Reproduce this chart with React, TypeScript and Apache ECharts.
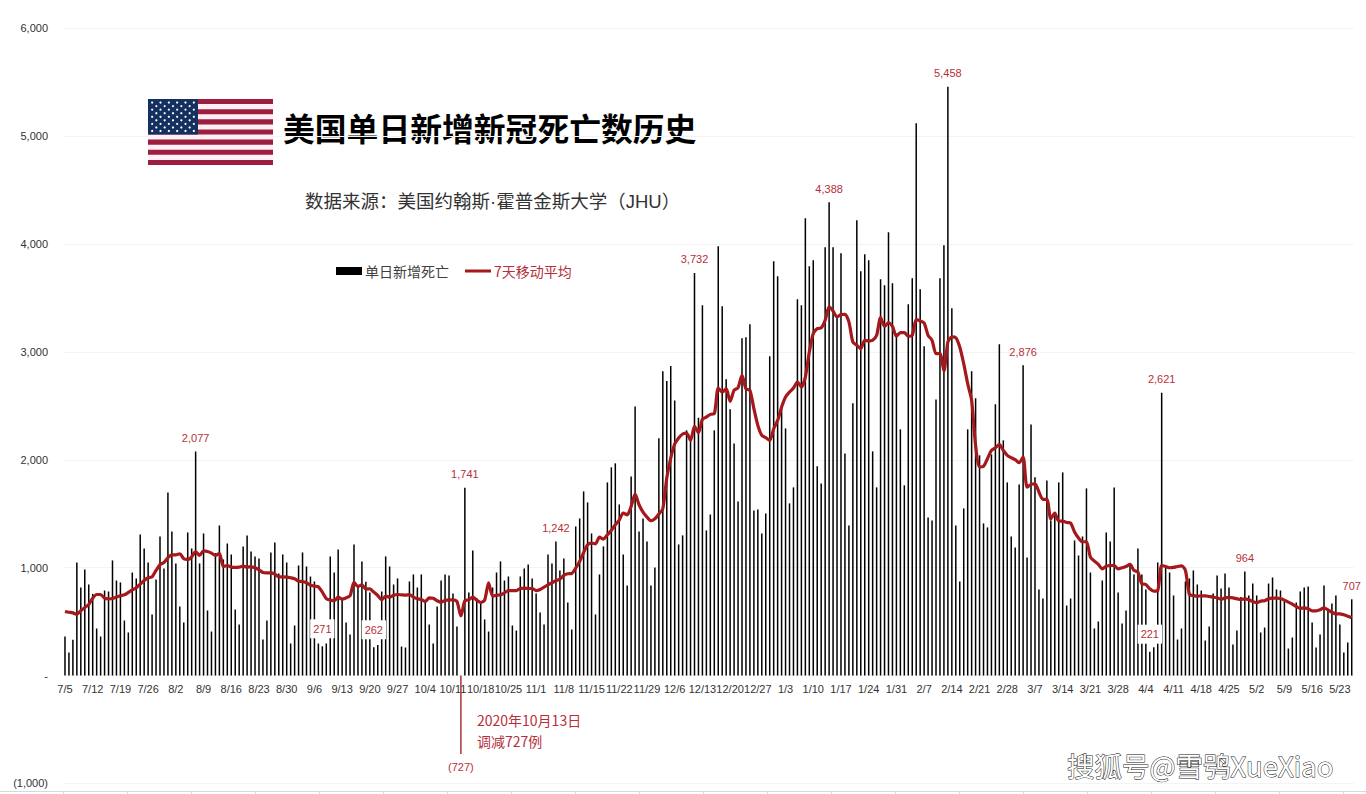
import React, { useEffect, useRef } from "react";
import * as echarts from "echarts";

const NARROW = "'Liberation Sans', Arial, sans-serif";
const CJK = "'Noto Sans CJK SC', sans-serif";
const MIXED = "'Liberation Sans', 'Noto Sans CJK SC', sans-serif";
const RED = "#a5181c";
const LABEL_RED = "#b5303a";

const dailyDeaths = [
  362,213,331,1048,816,983,844,757,436,362,
  788,779,1067,881,863,510,399,955,900,1308,
  1178,1048,566,890,1289,992,1697,1335,1039,640,
  491,1326,1178,2077,1039,1317,603,408,1135,1391,
  1076,1224,1122,612,473,1197,1299,1150,1104,1085,
  334,510,1141,1234,946,1122,1048,297,464,1020,
  1141,1011,918,872,297,271,297,1104,955,1169,
  705,491,380,1215,840,1058,869,770,262,284,
  779,1104,1011,844,900,269,260,872,937,816,
  937,686,473,297,640,881,937,928,761,455,
  -727,1741,770,1160,717,671,520,408,816,955,
  1058,881,918,464,417,918,992,1030,900,761,
  584,473,1122,1039,1242,974,1085,677,427,1382,
  1456,1707,1605,1317,566,937,1197,1790,1930,1967,
  1586,1122,835,1846,2495,1336,1456,1243,835,1002,
  2199,2820,2730,2870,2550,1215,1299,2273,2180,3732,
  2390,3432,1345,1493,2273,3980,3423,2746,2468,2152,
  1614,3126,3135,3256,1531,1540,1317,1503,2959,3840,
  3701,2490,2291,1596,1744,3488,3432,4239,3794,3850,
  1939,1781,3970,4388,3970,3324,3915,2059,1391,2523,
  4220,3748,3905,3850,2078,1744,3673,3618,4109,3636,
  3170,2282,1763,3442,3683,5120,3581,3052,1466,1438,
  2560,3683,3989,5458,3404,1391,872,1549,2282,2820,
  2570,2041,1410,1373,2050,2514,3070,2180,1790,1289,
  1187,1772,2876,1095,2328,1837,798,714,1809,1438,
  1500,1790,1883,649,714,1252,1113,1289,1735,955,
  436,501,881,1326,1243,1744,770,482,603,1020,
  937,1178,937,798,221,263,1048,2621,1000,955,
  742,334,436,872,900,974,844,788,325,454,
  761,928,807,946,816,288,417,727,964,742,
  853,742,399,445,853,909,798,788,696,250,
  352,677,779,816,825,491,260,380,835,600,
  668,742,473,213,306,707,
];

const movingAverage = [
  594,587,581,569,600,631,659,717,751,751,
  717,711,714,727,739,748,770,795,813,847,
  881,906,915,974,1027,1048,1092,1119,1119,1129,
  1082,1076,1101,1150,1113,1156,1150,1135,1113,1132,
  1011,1020,1005,1002,1005,1014,1005,1008,999,980,
  955,952,952,940,915,915,912,906,897,875,
  872,860,838,829,822,773,714,699,693,727,
  708,720,739,863,826,841,801,804,773,742,
  702,736,727,745,751,748,745,751,727,711,
  705,686,720,717,693,680,696,702,702,686,
  553,693,702,727,699,677,699,860,736,745,
  748,767,788,788,788,807,810,807,807,788,
  798,819,841,860,878,894,928,943,946,996,
  1058,1141,1212,1228,1221,1283,1265,1305,1345,1398,
  1441,1506,1490,1568,1682,1583,1515,1469,1435,1453,
  1497,1546,1831,2016,2146,2202,2239,2248,2180,2310,
  2250,2375,2396,2421,2427,2665,2628,2659,2542,2644,
  2668,2783,2659,2644,2474,2319,2226,2205,2180,2288,
  2365,2489,2582,2628,2665,2721,2675,2767,2999,3170,
  3216,3222,3293,3417,3380,3324,3346,3349,3278,3092,
  3061,3030,3108,3101,3108,3154,3318,3237,3271,3237,
  3145,3179,3179,3145,3154,3299,3287,3268,3154,3108,
  2984,2984,2823,3092,3139,3132,3046,2891,2706,2551,
  2134,1933,1939,2010,2087,2112,2140,2087,2041,2019,
  2001,1973,2025,1747,1772,1778,1701,1633,1633,1453,
  1506,1432,1432,1419,1413,1330,1274,1240,1240,1098,
  1061,1030,989,1014,1020,1020,989,999,1011,1030,
  974,959,850,844,804,782,788,1020,1011,999,
  1002,1011,1017,974,751,742,736,739,739,733,
  727,720,708,720,724,720,711,705,711,702,
  686,674,690,693,711,717,717,714,699,680,
  662,640,622,628,618,600,600,609,628,609,
  587,572,572,563,550,535,
];

// month, number of days shown, first day shown
const monthSpans = [
  [7, 27, 5], [8, 31, 1], [9, 30, 1], [10, 31, 1], [11, 30, 1], [12, 31, 1],
  [1, 31, 1], [2, 28, 1], [3, 31, 1], [4, 30, 1], [5, 26, 1],
];
const categories: string[] = [];
monthSpans.forEach(([m, n, first]) => {
  for (let d = 0; d < n; d++) categories.push(`${m}/${first + d}`);
});

const labelledIndexes = [33, 65, 78, 100, 101, 124, 159, 193, 223, 242, 274, 277, 298, 325];
const boxedIndexes = [65, 78, 274];

const NAME_BAR = "单日新增死亡";
const NAME_LINE = "7天移动平均";
const TITLE = "美国单日新增新冠死亡数历史";
const SUBTITLE = "数据来源\uFF1A美国约翰斯·霍普金斯大学\uFF08JHU\uFF09";
const NOTE_1 = "2020年10月13日";
const NOTE_2 = "调减727例";
const WATERMARK = "搜狐号@雪鸮XueXiao";

function fmt(v: number): string {
  if (v === 0) return "-";
  const s = Math.abs(v).toLocaleString("en-US");
  return v < 0 ? `(${s})` : s;
}

function flagElements() {
  const out: any[] = [];
  const X = 148, Y = 99, W = 125, H = 66;
  const sh = H / 13;
  out.push({ type: "rect", shape: { x: X, y: Y, width: W, height: H }, style: { fill: "#fff0f5" }, silent: true });
  for (let i = 0; i < 13; i += 2) {
    out.push({ type: "rect", shape: { x: X, y: Y + i * sh, width: W, height: sh }, style: { fill: "#9c1f40" }, silent: true });
  }
  const cw = 50, ch = sh * 7;
  out.push({ type: "rect", shape: { x: X, y: Y, width: cw, height: ch }, style: { fill: "#14305f" }, silent: true });
  for (let r = 0; r < 9; r++) {
    const n = r % 2 === 0 ? 6 : 5;
    for (let c = 0; c < n; c++) {
      const cx = X + cw * ((r % 2 === 0 ? 1 : 2) + c * 2) / 12;
      const cy = Y + ch * (r + 1) / 10;
      out.push({ type: "circle", shape: { cx, cy, r: 1.1 }, style: { fill: "#ffffff" }, silent: true });
    }
  }
  return out;
}

function bottomRule() {
  const out: any[] = [
    { type: "line", shape: { x1: 0, y1: 791.5, x2: 1366, y2: 791.5 }, style: { stroke: "#d9d9d9", lineWidth: 1 }, silent: true },
  ];
  for (let k = 0; k <= 20; k++) {
    const x = 63.5 + 64 * k;
    out.push({ type: "line", shape: { x1: x, y1: 791.5, x2: x, y2: 794 }, style: { stroke: "#d9d9d9", lineWidth: 1 }, silent: true });
  }
  return out;
}

export default function App() {
  const ref = useRef<HTMLDivElement>(null);
  useEffect(() => {
    document.body.style.margin = "0";
    const chart = echarts.init(ref.current!, undefined, { renderer: "svg" });
    const barData = dailyDeaths.map((v, i) => {
      const item: any = { value: v };
      if (v < 0) item.itemStyle = { color: "#a8343a" };
      if (labelledIndexes.includes(i)) {
        const boxed = boxedIndexes.includes(i);
        item.label = {
          show: true,
          position: v < 0 ? "bottom" : "top",
          distance: 8,
          formatter: fmt(v),
          color: LABEL_RED,
          fontFamily: NARROW,
          fontSize: 11,
          ...(boxed ? { backgroundColor: "#ffffff", padding: [4, 3, 4, 3] } : {}),
        };
      }
      return item;
    });
    chart.setOption({
      animation: false,
      backgroundColor: "#ffffff",
      grid: { left: 63, right: 12.3, top: 28.3, bottom: 10.6, outerBoundsMode: "none" },
      legend: {
        left: 336,
        top: 264,
        padding: 0,
        itemWidth: 26,
        itemHeight: 8,
        itemGap: 16,
        data: [
          { name: NAME_BAR, icon: "rect", textStyle: { color: "#404040" } },
          { name: NAME_LINE, icon: "path://M0 2.6H26V5.4H0Z M0 0h.01v.01H0Z M0 8h.01v-.01H0Z", textStyle: { color: LABEL_RED } },
        ],
        textStyle: { fontFamily: CJK, fontSize: 14, padding: [0, 0, 0, -2] },
      },
      xAxis: {
        type: "category",
        data: categories,
        position: "bottom",
        offset: -108,
        axisLine: { show: false, onZero: false },
        axisTick: { show: false },
        axisLabel: {
          interval: 6,
          margin: 8,
          color: "#333333",
          fontFamily: NARROW,
          fontSize: 11,
        },
      },
      yAxis: {
        type: "value",
        min: -1000,
        max: 6000,
        interval: 1000,
        axisLine: { show: false },
        axisTick: { show: false },
        splitLine: { lineStyle: { color: "#f3f3f3", width: 1 } },
        axisLabel: {
          margin: 15,
          color: "#333333",
          fontFamily: NARROW,
          fontSize: 11,
          formatter: (v: number) => fmt(v),
        },
      },
      series: [
        {
          name: NAME_BAR,
          type: "bar",
          barWidth: 1.5,
          itemStyle: { color: "#000000" },
          data: barData,
          z: 2,
        },
        {
          name: NAME_LINE,
          type: "line",
          data: movingAverage,
          showSymbol: false,
          symbol: "none",
          smooth: 0.25,
          lineStyle: { color: RED, width: 3.2 },
          itemStyle: { color: RED },
          z: 3,
        },
      ],
      graphic: [
        ...flagElements(),
        ...bottomRule(),
        {
          type: "text", x: 283, y: 127,
          style: { text: TITLE, fill: "#000000", font: `bold 31.8px ${CJK}`, textVerticalAlign: "middle" },
          silent: true,
        },
        {
          type: "text", x: 305, y: 201,
          style: { text: SUBTITLE, fill: "#333333", font: `18.5px ${MIXED}`, textVerticalAlign: "middle" },
          silent: true,
        },
        {
          type: "text", x: 477, y: 720,
          style: { text: NOTE_1, fill: LABEL_RED, font: `14px ${CJK}`, textVerticalAlign: "middle" },
          silent: true,
        },
        {
          type: "text", x: 477, y: 741,
          style: { text: NOTE_2, fill: LABEL_RED, font: `14px ${CJK}`, textVerticalAlign: "middle" },
          silent: true,
        },
        {
          type: "text", x: 1067, y: 765,
          style: {
            text: WATERMARK, fill: "#ffffff", font: `27.5px ${CJK}`, textVerticalAlign: "middle",
            stroke: "#111111", lineWidth: 1,
          },
          silent: true,
        },
      ],
    });
    return () => chart.dispose();
  }, []);
  return <div ref={ref} style={{ position: "absolute", left: 0, top: 0, width: 1366, height: 794 }} />;
}
